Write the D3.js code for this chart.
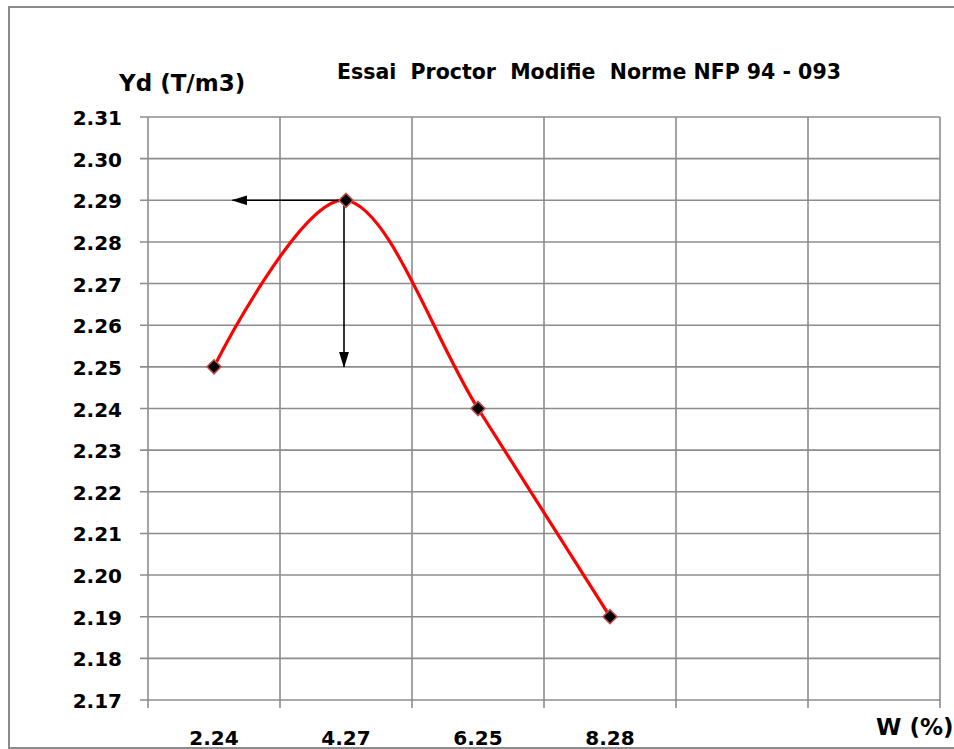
<!DOCTYPE html>
<html>
<head>
<meta charset="utf-8">
<script src="https://cdn.jsdelivr.net/npm/d3@7"></script>
<style>
    body { margin: 0; background: #fff; }
    text { font-family: "DejaVu Sans", sans-serif; font-weight: bold; fill: #000; }
</style>
</head>
<body>
<div id="chart"></div>
<script>
// proctor test - dry density vs water content

const slotCount = 6;                                  // category slots on the x axis
const waterLabels = ["2.24", "4.27", "6.25", "8.28"]; // W (%)
const dryDensity = [2.25, 2.29, 2.24, 2.19];          // Yd (T/m3)
const yDomain = [2.17, 2.31];

// optimum arrows: horizontal arrow stops at this slot position, vertical one at this density
const arrowLeftSlot = 0.64;
const arrowDownValue = 2.25;

const titleText = "Essai  Proctor  Modifie  Norme NFP 94 - 093";

let margin = {top: 117, right: 14, bottom: 49, left: 148};
let width = 954 - margin.left - margin.right;
let height = 749 - margin.top - margin.bottom;

let svg = d3.select("#chart").append("svg")
    .attr("width", 954)
    .attr("height", 749);

// outer frame
svg.append("rect")
    .attr("x", 9).attr("y", 7)
    .attr("width", 960).attr("height", 741)
    .attr("fill", "none")
    .attr("stroke", "#8c8c8c")
    .attr("stroke-width", 2);

svg.append("defs").append("marker")
    .attr("id", "arrow")
    .attr("viewBox", "0 0 16 10")
    .attr("refX", 15).attr("refY", 5)
    .attr("markerWidth", 16).attr("markerHeight", 10)
    .attr("markerUnits", "userSpaceOnUse")
    .attr("orient", "auto")
    .append("path")
    .attr("d", "M0,0 L16,5 L0,10 Z")
    .attr("fill", "#000");

let g = svg.append("g")
    .attr("transform", "translate(" + margin.left + "," + margin.top + ")");

let x = d3.scaleBand()
    .domain(d3.range(slotCount))
    .range([0, width]);

let xs = d3.scaleLinear()
    .domain([0, slotCount])
    .range([0, width]);

let y = d3.scaleLinear()
    .domain(yDomain)
    .range([height, 0]);

let yTicks = y.ticks(14);

// gridlines
g.append("g").selectAll("line")
    .data(yTicks)
    .enter().append("line")
    .attr("x1", -8).attr("x2", width)
    .attr("y1", d => y(d)).attr("y2", d => y(d))
    .attr("stroke", "#8c8c8c")
    .attr("stroke-width", 1.6);

g.append("g").selectAll("line")
    .data(d3.range(slotCount + 1))
    .enter().append("line")
    .attr("x1", d => xs(d)).attr("x2", d => xs(d))
    .attr("y1", 0).attr("y2", height + 8)
    .attr("stroke", "#8c8c8c")
    .attr("stroke-width", 1.6);

// y tick labels
g.append("g").selectAll("text")
    .data(yTicks)
    .enter().append("text")
    .attr("x", -26)
    .attr("y", d => y(d) + 8)
    .attr("text-anchor", "end")
    .style("font-size", "20px")
    .text(d => d3.format(".2f")(d));

// x tick labels
g.append("g").selectAll("text")
    .data(waterLabels)
    .enter().append("text")
    .attr("x", (d, i) => x(i) + x.bandwidth() / 2)
    .attr("y", height + 45)
    .attr("text-anchor", "middle")
    .style("font-size", "20px")
    .text(d => d);

// titles
svg.append("text")
    .attr("x", 337).attr("y", 79)
    .style("font-size", "20.5px")
    .style("white-space", "pre")
    .text(titleText);

svg.append("text")
    .attr("x", 119).attr("y", 91)
    .style("font-size", "23px")
    .text("Yd (T/m3)");

svg.append("text")
    .attr("x", 876).attr("y", 735)
    .style("font-size", "23px")
    .text("W (%)");

// data
let points = dryDensity.map((v, i) => [x(i) + x.bandwidth() / 2, y(v)]);

let line = d3.line().curve(d3.curveCatmullRom.alpha(0));

g.append("path")
    .attr("d", line(points))
    .attr("fill", "none")
    .attr("stroke", "#ff0000")
    .attr("stroke-width", 3.2);

// arrows from the optimum
let peakIndex = d3.maxIndex(dryDensity);
let peak = points[peakIndex];

g.append("line")
    .attr("x1", peak[0]).attr("y1", peak[1])
    .attr("x2", xs(arrowLeftSlot)).attr("y2", peak[1])
    .attr("stroke", "#000").attr("stroke-width", 1.6)
    .attr("marker-end", "url(#arrow)");

g.append("line")
    .attr("x1", peak[0] - 2).attr("y1", peak[1])
    .attr("x2", peak[0] - 2).attr("y2", y(arrowDownValue))
    .attr("stroke", "#000").attr("stroke-width", 1.6)
    .attr("marker-end", "url(#arrow)");

// markers
g.append("g").selectAll("path")
    .data(points)
    .enter().append("path")
    .attr("d", d3.symbol().type(d3.symbolSquare).size(100))
    .attr("transform", d => "translate(" + d[0] + "," + d[1] + ") rotate(45)")
    .attr("fill", "#000")
    .attr("stroke", "#c0504d")
    .attr("stroke-width", 1.5);
</script>
</body>
</html>
